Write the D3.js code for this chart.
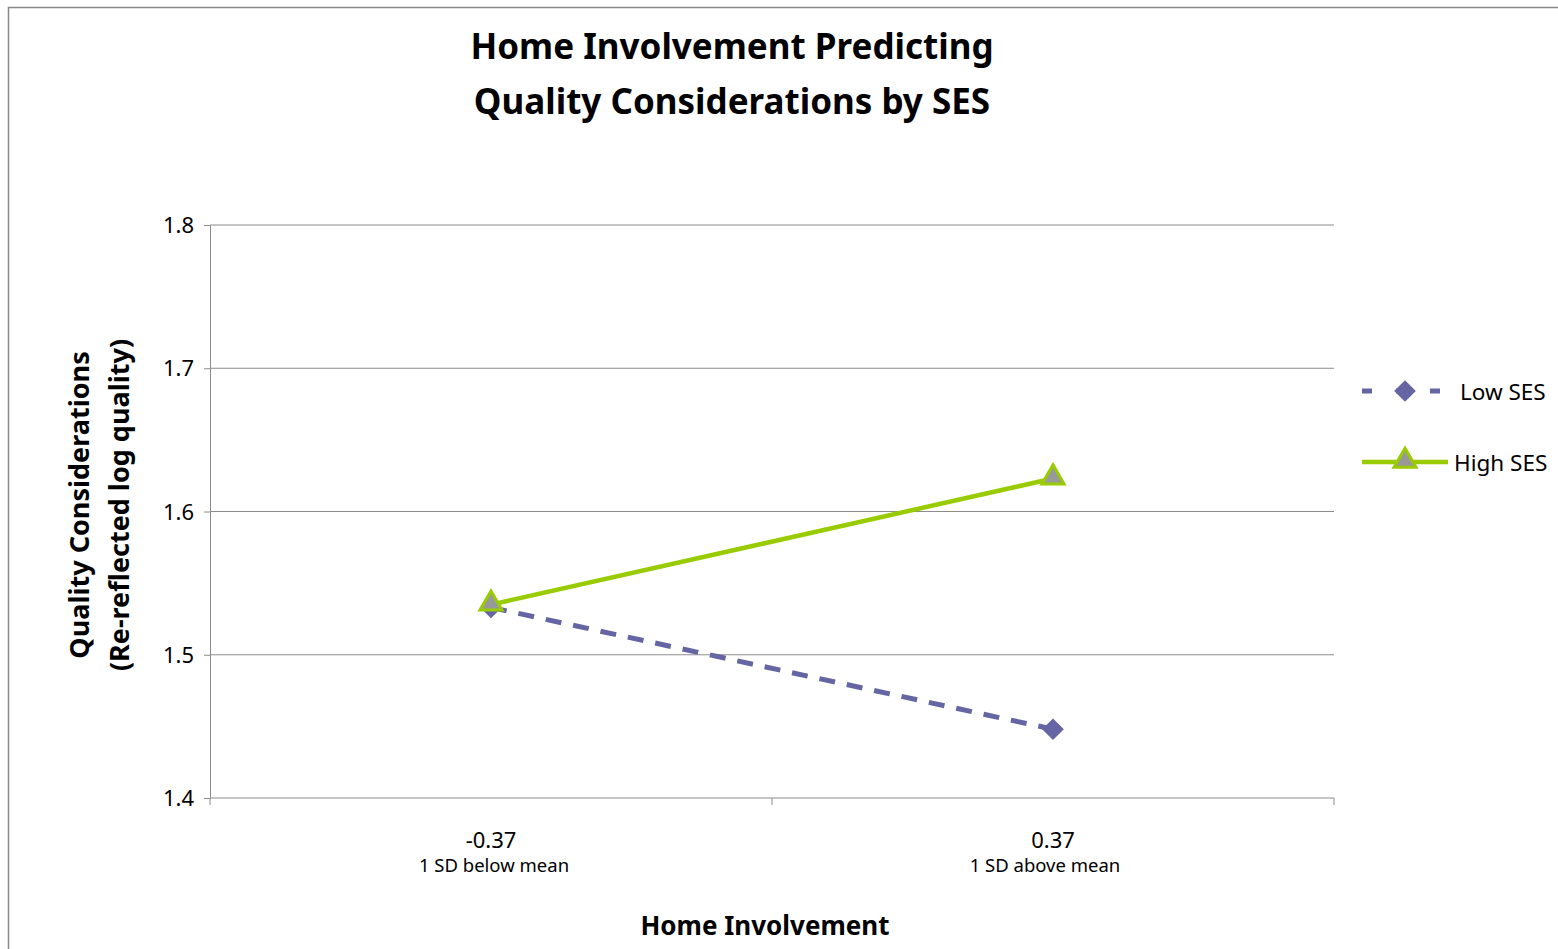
<!DOCTYPE html>
<html>
<head>
<meta charset="utf-8">
<script src="https://cdn.jsdelivr.net/npm/d3@7"></script>
<style>
  body { margin: 0; background: #fff; }
  text { font-family: "Noto Sans", "Open Sans", sans-serif; fill: #000; }
</style>
</head>
<body>
<div id="chart"></div>
<script>
// Chart data
const categories = ['-0.37', '0.37'];
const categoryNotes = ['1 SD below mean', '1 SD above mean'];
const lowSES = [1.533, 1.448];
const highSES = [1.535, 1.623];
const yTicks = [1.4, 1.5, 1.6, 1.7, 1.8];

const W = 1558, H = 949;
const plot = { left: 210, right: 1334, top: 225, bottom: 798 };

const svg = d3.select('#chart')
    .append('svg')
    .attr('width', W)
    .attr('height', H);

// outer chart border (only top/left visible)
svg.append('rect')
    .attr('x', 8.5).attr('y', 7.5)
    .attr('width', W + 20).attr('height', H + 20)
    .attr('fill', 'none')
    .attr('stroke', '#888')
    .attr('stroke-width', 1.5);

const x = d3.scaleBand()
    .domain(categories)
    .range([plot.left, plot.right]);

const y = d3.scaleLinear()
    .domain([1.4, 1.8])
    .range([plot.bottom, plot.top]);

// gridlines
svg.append('g')
    .selectAll('line')
    .data(yTicks.slice(1))
    .enter()
    .append('line')
    .attr('x1', plot.left).attr('x2', plot.right)
    .attr('y1', d => y(d)).attr('y2', d => y(d))
    .attr('stroke', '#8c8c8c')
    .attr('stroke-width', 1);

// y axis
const yAxis = svg.append('g')
    .attr('transform', `translate(${plot.left},0)`)
    .call(d3.axisLeft(y).tickValues(yTicks).tickFormat(d3.format('.1f')).tickSize(6).tickPadding(10));
yAxis.select('.domain').attr('stroke', '#8c8c8c');
yAxis.selectAll('.tick line').attr('stroke', '#8c8c8c');
yAxis.selectAll('.tick text').style('font-size', '22px').attr('dy', '0.35em');

// x axis
const xAxis = svg.append('g')
    .attr('transform', `translate(0,${plot.bottom})`);
xAxis.append('line')
    .attr('x1', plot.left).attr('x2', plot.right)
    .attr('stroke', '#8c8c8c');
xAxis.selectAll('line.tick')
    .data([plot.left, plot.left + x.bandwidth(), plot.right])
    .enter()
    .append('line')
    .attr('class', 'tick')
    .attr('x1', d => d).attr('x2', d => d)
    .attr('y1', 0).attr('y2', 7)
    .attr('stroke', '#8c8c8c');

const cx = d => x(d) + x.bandwidth() / 2;

xAxis.selectAll('text.cat')
    .data(categories)
    .enter()
    .append('text')
    .attr('class', 'cat')
    .attr('x', d => cx(d))
    .attr('y', 50)
    .attr('text-anchor', 'middle')
    .style('font-size', '22px')
    .text(d => d);

xAxis.selectAll('text.note')
    .data(categories)
    .enter()
    .append('text')
    .attr('class', 'note')
    .attr('x', (d, i) => cx(d) + (i === 0 ? 3 : -8))
    .attr('y', 74)
    .attr('text-anchor', 'middle')
    .style('font-size', '18.5px')
    .text((d, i) => categoryNotes[i]);

// titles
svg.append('text')
    .attr('text-anchor', 'middle')
    .style('font-size', '35px').style('font-weight', 'bold')
    .selectAll('tspan')
    .data(['Home Involvement Predicting', 'Quality Considerations by SES'])
    .enter()
    .append('tspan')
    .attr('x', 732)
    .attr('y', (d, i) => 59 + i * 55)
    .text(d => d);

svg.append('text')
    .attr('x', 765).attr('y', 935)
    .attr('text-anchor', 'middle')
    .style('font-size', '26px').style('font-weight', 'bold')
    .text('Home Involvement');

svg.append('text')
    .attr('transform', 'translate(0,505) rotate(-90)')
    .attr('text-anchor', 'middle')
    .style('font-size', '27px').style('font-weight', 'bold')
    .selectAll('tspan')
    .data(['Quality Considerations', '(Re-reflected log quality)'])
    .enter()
    .append('tspan')
    .attr('x', 0)
    .attr('y', (d, i) => 89 + i * 40)
    .text(d => d);

// series
const lowColor = '#6565a3';
const highColor = '#99cc00';

const line = d3.line()
    .x((d, i) => cx(categories[i]))
    .y(d => y(d));

svg.append('path')
    .datum(lowSES)
    .attr('d', line)
    .attr('fill', 'none')
    .attr('stroke', lowColor)
    .attr('stroke-width', 5)
    .attr('stroke-dasharray', '16,12');

svg.append('path')
    .datum(highSES)
    .attr('d', line)
    .attr('fill', 'none')
    .attr('stroke', highColor)
    .attr('stroke-width', 4.5);

const diamond = d3.symbol().type(d3.symbolDiamond2).size(300);
const triangle = d3.symbol().type(d3.symbolTriangle).size(210);

svg.selectAll('path.low')
    .data(lowSES)
    .enter()
    .append('path')
    .attr('class', 'low')
    .attr('d', diamond)
    .attr('transform', (d, i) => `translate(${cx(categories[i])},${y(d)})`)
    .attr('fill', lowColor);

svg.selectAll('path.high')
    .data(highSES)
    .enter()
    .append('path')
    .attr('class', 'high')
    .attr('d', triangle)
    .attr('transform', (d, i) => `translate(${cx(categories[i])},${y(d) - 1})`)
    .attr('fill', '#999')
    .attr('stroke', highColor)
    .attr('stroke-width', 3);

// legend
const lg = svg.append('g');
lg.append('line')
    .attr('x1', 1362).attr('x2', 1440)
    .attr('y1', 391).attr('y2', 391)
    .attr('stroke', lowColor).attr('stroke-width', 5)
    .attr('stroke-dasharray', '10,24');
lg.append('path')
    .attr('d', diamond)
    .attr('transform', 'translate(1405,391)')
    .attr('fill', lowColor);
lg.append('text')
    .attr('x', 1460).attr('y', 400)
    .style('font-size', '22.5px')
    .text('Low SES');

lg.append('line')
    .attr('x1', 1362).attr('x2', 1448)
    .attr('y1', 462).attr('y2', 462)
    .attr('stroke', highColor).attr('stroke-width', 4.5);
lg.append('path')
    .attr('d', triangle)
    .attr('transform', 'translate(1405,461)')
    .attr('fill', '#999')
    .attr('stroke', highColor)
    .attr('stroke-width', 3);
lg.append('text')
    .attr('x', 1454).attr('y', 471)
    .style('font-size', '22.5px')
    .text('High SES');
</script>
</body>
</html>
